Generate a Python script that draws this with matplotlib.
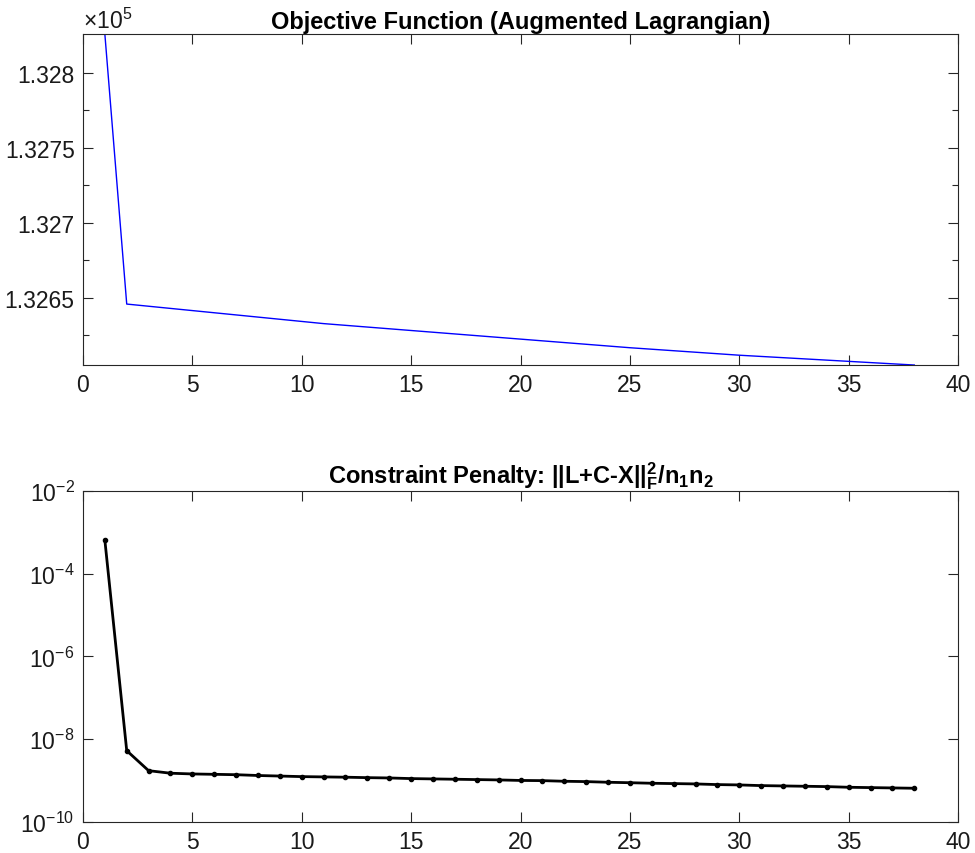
"""
plot.py — convergence figure: augmented Lagrangian objective and constraint penalty.
"""

import math

import matplotlib

matplotlib.use("Agg")
import matplotlib.pyplot as plt
from matplotlib.ticker import FixedLocator, FuncFormatter, NullLocator

# --- data -------------------------------------------------------------------
iterations = list(range(1, 39))

objective = [
    132826.0, 132645.7, 132644.25, 132642.8, 132641.35, 132639.9, 132638.45, 132637.0,
    132635.55, 132634.1, 132632.65, 132631.5, 132630.35, 132629.2, 132628.05, 132626.9,
    132625.75, 132624.6, 132623.45, 132622.3, 132621.15, 132620.0, 132618.85, 132617.7,
    132616.55, 132615.55, 132614.55, 132613.55, 132612.55, 132611.55, 132610.73, 132609.91,
    132609.09, 132608.27, 132607.45, 132606.63, 132605.81, 132605.0,
]

penalty = [
    6.5e-4, 5.3e-9, 1.74e-9, 1.51e-9, 1.45e-9, 1.42e-9, 1.39e-9, 1.33e-9, 1.29e-9, 1.25e-9,
    1.23e-9, 1.21e-9, 1.18e-9, 1.16e-9, 1.12e-9, 1.10e-9, 1.08e-9, 1.06e-9, 1.04e-9, 1.01e-9,
    1.00e-9, 9.65e-10, 9.47e-10, 9.13e-10, 8.9e-10, 8.64e-10, 8.48e-10, 8.32e-10, 8.02e-10, 7.87e-10,
    7.58e-10, 7.44e-10, 7.31e-10, 7.17e-10, 6.91e-10, 6.78e-10, 6.66e-10, 6.54e-10,
]

obj_ticks = [1.3265, 1.327, 1.3275, 1.328]
x_ticks = [0, 5, 10, 15, 20, 25, 30, 35, 40]
log_ticks = [1e-10, 1e-8, 1e-6, 1e-4, 1e-2]

# --- style (MATLAB-ish) ------------------------------------------------------
plt.rcParams["font.family"] = ["Liberation Sans", "DejaVu Sans"]
plt.rcParams["mathtext.fontset"] = "custom"
plt.rcParams["mathtext.rm"] = "Liberation Sans"
plt.rcParams["mathtext.bf"] = "Liberation Sans:bold"
plt.rcParams["mathtext.it"] = "Liberation Sans:italic"

AX_COLOR = "#262626"
FS = 16.5
TITLE_FS = 17


def matlab_axes(ax):
    for s in ax.spines.values():
        s.set_color(AX_COLOR)
        s.set_linewidth(0.8)
    ax.tick_params(which="both", direction="in", top=True, right=True,
                   colors=AX_COLOR, labelcolor="#1a1a1a", labelsize=FS, width=0.8)
    ax.tick_params(which="major", length=7, pad=6)
    ax.tick_params(which="minor", length=4)
    ax.set_xlim(0, 40)
    ax.xaxis.set_major_locator(FixedLocator(x_ticks))


fig = plt.figure(figsize=(9.75, 8.54), dpi=100)
ax1 = fig.add_axes([0.0851, 0.5714, 0.8975, 0.3876])
ax2 = fig.add_axes([0.0851, 0.0363, 0.8975, 0.3876])

# top: objective
ax1.plot(iterations, objective, color="#0000ff", linewidth=1.0)
matlab_axes(ax1)
ax1.set_ylim(min(objective), max(objective))
ax1.yaxis.set_major_locator(FixedLocator([t * 1e5 for t in obj_ticks]))
ax1.yaxis.set_minor_locator(FixedLocator([t * 1e5 - 25 for t in obj_ticks]))
ax1.yaxis.set_major_formatter(FuncFormatter(lambda v, _: f"{v / 1e5:g}"))
ax1.text(0.0, 1.003, r"$\times$10$^5$", transform=ax1.transAxes, fontsize=FS,
         ha="left", va="bottom", color="#1a1a1a")
ax1.set_title("Objective Function (Augmented Lagrangian)", fontsize=TITLE_FS,
              fontweight="bold", pad=4)

# bottom: constraint penalty
ax2.plot(iterations, penalty, color="black", linewidth=2.0, marker=".", markersize=6)
ax2.set_yscale("log")
matlab_axes(ax2)
ax2.set_ylim(1e-10, 1e-2)
ax2.yaxis.set_major_locator(FixedLocator(log_ticks))
ax2.yaxis.set_minor_locator(NullLocator())
ax2.yaxis.set_major_formatter(
    FuncFormatter(lambda v, _: "10$^{\\mathdefault{-%d}}$" % round(-math.log10(v))))
ax2.set_title(r"Constraint Penalty: ||L+C-X||$^{\mathbf{2}}_{\mathbf{F}}$/n$_{\mathbf{1}}$n$_{\mathbf{2}}$",
              fontsize=TITLE_FS, fontweight="bold", pad=5)

fig.savefig("out.png", dpi=100)
